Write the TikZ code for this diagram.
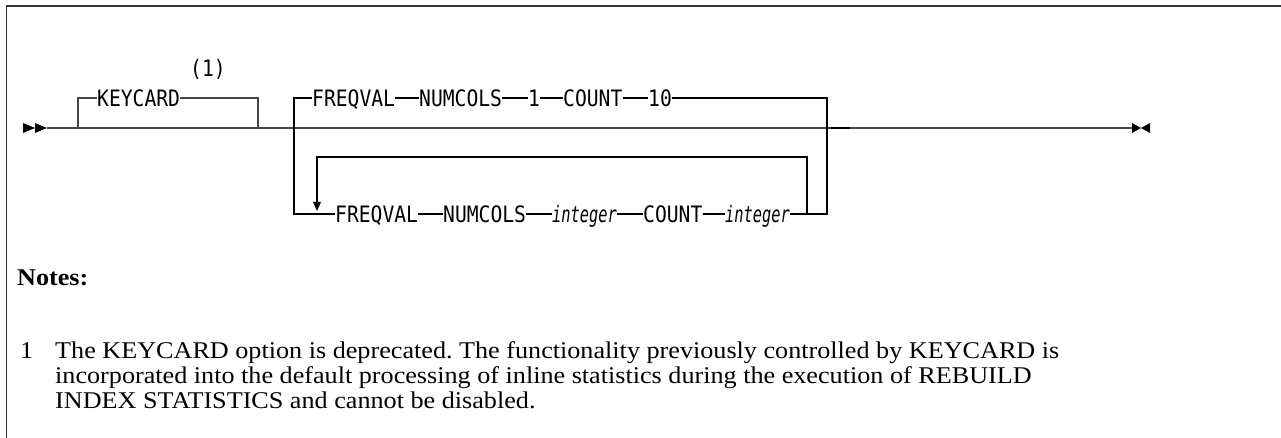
\documentclass[tikz,border=0pt]{standalone}
\usepackage{fontspec}
\setmainfont{Liberation Serif}
\newfontfamily\synfont{DejaVu Sans Mono}[FakeStretch=0.87]
\newfontfamily\synitfont{DejaVu Sans Mono Oblique}[FakeStretch=0.68]
\newfontfamily\notefont{Liberation Serif}[FakeStretch=1.09]
\frenchspacing
\begin{document}
\begin{tikzpicture}[x=1pt,y=-1pt,
  tok/.style={inner sep=0pt, anchor=base west, font=\synfont\fontsize{22.6}{26}\selectfont},
  itok/.style={inner sep=0pt, anchor=base west, font=\synitfont\fontsize{22.6}{26}\selectfont},
  mainln/.style={line width=1.6pt, draw=black!72},
  boxln/.style={line width=1.6pt, draw=black},
  tip/.style={fill=black},
  frameln/.style={line width=1.6pt, draw=black!80},
  note/.style={inner sep=0pt, anchor=base west, font=\notefont\fontsize{24}{26}\selectfont},
]
\useasboundingbox (0,0) rectangle (1281,438);
% frame
\draw[frameln] (6.5,438) -- (6.5,6) -- (1281,6);

% reference rows
\coordinate (r0) at (0,98);
\coordinate (rm) at (0,128);
\coordinate (r2) at (0,214);
\coordinate (rl) at (0,157);

% start / end of main line
\coordinate (s) at (47,128);
\coordinate (e) at (1132,128);
\draw[mainln] (s) -- (e);
\fill[tip] (23,123) -- (35,128) -- (23,133) -- cycle;
\fill[tip] (35,123) -- (47,128) -- (35,133) -- cycle;
\fill[tip] (1132,123) -- (1141,128) -- (1132,133) -- cycle;
\fill[tip] (1150,123) -- (1141,128) -- (1150,133) -- cycle;
\draw[line width=2pt, draw=black] (831,128) -- (850,128);

% KEYCARD branch
\node[tok] (kc) at (97,106.3) {KEYCARD};
\node[inner sep=0pt, font=\synfont\fontsize{22.6}{26}\selectfont] (n1) at (208,69) {(1)};
\coordinate (k1) at (78,128);
\coordinate (k2) at (258,128);
\draw[mainln] (k1) -- (k1 |- r0) -- (kc.west |- r0);
\draw[mainln] (kc.east |- r0) -- (k2 |- r0) -- (k2);

% FREQVAL group, row 1
\node[tok] (a1) at (312,106.3) {FREQVAL};
\node[tok] (a2) at (419,106.3) {NUMCOLS};
\node[tok] (a3) at (528,106.3) {1};
\node[tok] (a4) at (563,106.3) {COUNT};
\node[tok] (a5) at (648,106.3) {10};
% row 2
\node[tok] (b1) at (335,222.3) {FREQVAL};
\node[tok] (b2) at (443,222.3) {NUMCOLS};
\node[itok] (b3) at (552,222.3) {integer};
\node[tok] (b4) at (643,222.3) {COUNT};
\node[itok] (b5) at (725,222.3) {integer};

\coordinate (L) at (294,0);
\coordinate (R) at (827,0);
\coordinate (IL) at (317,0);
\coordinate (IR) at (807,0);

\draw[boxln] (a1.west |- r0) -- (L |- r0) -- (L |- r2) -- (b1.west |- r2);
\draw[boxln] (a1.east |- r0) -- (a2.west |- r0);
\draw[boxln] (a2.east |- r0) -- (a3.west |- r0);
\draw[boxln] (a3.east |- r0) -- (a4.west |- r0);
\draw[boxln] (a4.east |- r0) -- (a5.west |- r0);
\draw[boxln] (a5.east |- r0) -- (R |- r0) -- (R |- r2) -- (b5.east |- r2);
\draw[boxln] (b1.east |- r2) -- (b2.west |- r2);
\draw[boxln] (b2.east |- r2) -- (b3.west |- r2);
\draw[boxln] (b3.east |- r2) -- (b4.west |- r2);
\draw[boxln] (b4.east |- r2) -- (b5.west |- r2);
% repeat loop
\coordinate (lp) at (317,202);
\draw[boxln] (IR |- r2) -- (IR |- rl) -- (IL |- rl) -- (lp);
\fill[tip] (313,202) -- (321,202) -- (317,211) -- cycle;

% notes
\node[inner sep=0pt, anchor=base west, font=\notefont\bfseries\fontsize{24}{26}\selectfont] (nt) at (17,285) {Notes:};
\node[note] (num) at (20,358) {1};
\node[note] (l1) at (55,358) {The KEYCARD option is deprecated. The functionality previously controlled by KEYCARD is};
\node[note] (l2) at (55,383) {incorporated into the default processing of inline statistics during the execution of REBUILD};
\node[note] (l3) at (55,408) {INDEX STATISTICS and cannot be disabled.};
\end{tikzpicture}
\end{document}
